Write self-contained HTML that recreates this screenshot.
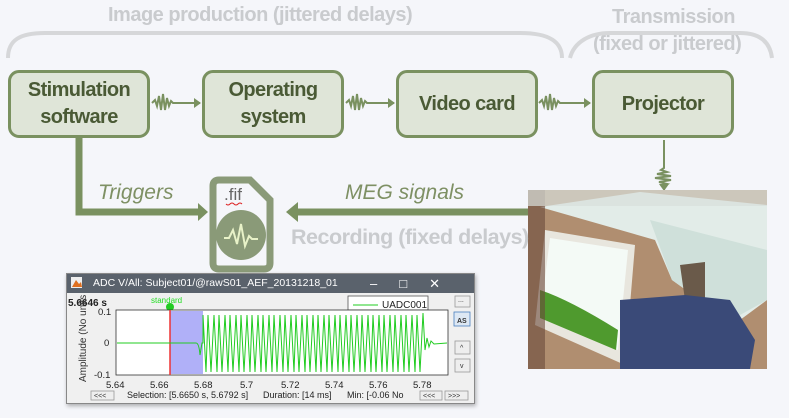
<!DOCTYPE html>
<html><head><meta charset="utf-8"><style>
html,body{margin:0;padding:0;background:#f5f6fa;}
body{width:789px;height:418px;position:relative;overflow:hidden;font-family:"Liberation Sans",sans-serif;}
.box{position:absolute;top:70px;height:62px;border:3px solid #7a9160;border-radius:11px;background:#dfe5d8;color:#4a5a35;font-weight:bold;font-size:20px;letter-spacing:-0.6px;display:flex;align-items:center;justify-content:center;text-align:center;line-height:27px;}
.t{position:absolute;color:#c9cbce;font-weight:bold;font-size:20px;letter-spacing:-0.5px;white-space:nowrap;}
.g{position:absolute;color:#7e9064;font-style:italic;font-size:21px;white-space:nowrap;}
</style></head><body>
<div class="t" style="left:108px;top:4px;">Image production (jittered delays)</div>
<div class="t" style="left:612px;top:6px;">Transmission</div>
<div class="t" style="left:593px;top:33px;">(fixed or jittered)</div>
<svg width="789" height="418" style="position:absolute;left:0;top:0">
<path d="M8,58 C8,40 20,33 45,33 L520,33 C550,33 562,42 562,58" fill="none" stroke="#d6d7d9" stroke-width="4"/>
<path d="M570,58 C574,42 590,33 610,33 L740,33 C760,33 770,42 772,58" fill="none" stroke="#d6d7d9" stroke-width="4"/>
<g fill="none" stroke="#7a9160" stroke-width="2">
<path d="M152,103 l3,-3 l2,6 l2,-10 l2,14 l2,-16 l2,16 l2,-12 l2,8 l2,-5 l2,2 L200,103"/>
<path d="M346,103 l3,-3 l2,6 l2,-10 l2,14 l2,-16 l2,16 l2,-12 l2,8 l2,-5 l2,2 L394,103"/>
<path d="M539,103 l3,-3 l2,6 l2,-10 l2,14 l2,-16 l2,16 l2,-12 l2,8 l2,-5 l2,2 L590,103"/>
<path d="M664,140 L664,168 l-3,2 l6,2 l-10,2 l14,2 l-16,2 l16,2 l-12,2 l8,2 l-5,2 l2,2 L664,186"/>
</g>
<g fill="#7a9160"><path d="M194,98 l7,5 l-7,5z"/><path d="M388,98 l7,5 l-7,5z"/><path d="M584,98 l7,5 l-7,5z"/><path d="M659,184 l5,7 l5,-7z"/></g>
<path d="M79,138 L79,212 L200,212" fill="none" stroke="#7a9160" stroke-width="7"/>
<path d="M198,203 l10,9 l-10,9z" fill="#7a9160"/>
<path d="M528,212 L296,212" fill="none" stroke="#7a9160" stroke-width="7"/>
<path d="M298,202 l-12,10 l12,10z" fill="#7a9160"/>
<path d="M219,180 L250,180 L270,200 L270,263 Q270,269 264,269 L219,269 Q213,269 213,263 L213,186 Q213,180 219,180Z" fill="#f5f6fa" stroke="#8a9a78" stroke-width="7"/>
<circle cx="241" cy="235" r="25" fill="#8a9a78"/>
<path d="M224,238 l5,0 l4,-8 l4,14 l4,-20 l4,22 l4,-10 l3,3 l6,0" fill="none" stroke="#e8f2c8" stroke-width="2"/>
<text x="224" y="200" font-family="Liberation Sans" font-size="17" fill="#666">.fif</text>
<path d="M226,204 q2,2 4,0 q2,-2 4,0 q2,2 4,0 q2,-2 4,0" fill="none" stroke="#d22" stroke-width="1"/>
<!-- photo -->
<rect x="528" y="190" width="239" height="179" fill="#b08e70"/>
<path d="M540,207 L640,192 L767,205 L767,300 L740,320 L700,300 L672,280 L655,240Z" fill="#e2ece8"/>
<path d="M650,220 L767,250 L767,300 L740,315 L700,300 L672,280Z" fill="#cfe0da"/>
<path d="M680,265 L705,262 L705,300 L685,300Z" fill="#6a5a4a"/>
<path d="M545,230 L635,245 L625,365 L535,325Z" fill="#e8e6de"/>
<path d="M550,238 L628,250 L618,350 L540,318Z" fill="#f4faf6"/>
<path d="M540,290 Q570,300 618,330 L616,350 L540,318Z" fill="#4f9a2e"/>
<path d="M620,300 L685,295 L730,300 L755,340 L750,369 L620,369Z" fill="#3a4a78"/>
<path d="M528,190 L545,190 L545,369 L528,369Z" fill="#6a4a3a" opacity=".6"/>
<rect x="528" y="190" width="239" height="16" fill="#d8e0dc" opacity=".7"/>
</svg>
<div class="box" style="left:8px;width:136px;">Stimulation<br>software</div>
<div class="box" style="left:202px;width:136px;">Operating<br>system</div>
<div class="box" style="left:396px;width:136px;">Video card</div>
<div class="box" style="left:592px;width:136px;">Projector</div>
<div class="g" style="left:98px;top:181px;">Triggers</div>
<div class="g" style="left:345px;top:181px;">MEG signals</div>
<div class="t" style="left:291px;top:225px;font-size:21.5px;">Recording (fixed delays)</div>
<!-- window -->
<div style="position:absolute;left:66px;top:273px;width:407px;height:129px;background:#f0f0f0;border:1px solid #888;box-shadow:1px 2px 4px rgba(0,0,0,.3);">
<div style="height:19px;background:#5a626c;color:#fff;font-size:10.5px;line-height:19px;padding-left:26px;position:relative;">ADC V/All: Subject01/@rawS01_AEF_20131218_01<span style="position:absolute;right:12px;top:0;font-size:13px;letter-spacing:22px;">–□✕</span></div>
</div>
<svg width="789" height="418" style="position:absolute;left:0;top:0;font-family:'Liberation Sans'">
<text x="68" y="306" font-size="10" font-weight="bold" fill="#222">5.6646 s</text>
<text x="151" y="303" font-size="8" fill="#2d2">standard</text>
<circle cx="170" cy="307" r="4" fill="#2c2"/>
<rect x="348" y="296" width="80" height="14" fill="#fff" stroke="#555" stroke-width=".8"/>
<line x1="353" y1="305" x2="378" y2="305" stroke="#2c2"/>
<text x="382" y="308" font-size="10" fill="#222">UADC001</text>
<rect x="116" y="310" width="332" height="65" fill="#fff" stroke="#333" stroke-width=".8"/>
<rect x="170" y="311" width="33" height="63" fill="#b0b0f8"/>
<line x1="170" y1="310" x2="170" y2="375" stroke="#e33" stroke-width="1.5"/>
<path d="M117,343 L196,343 Q199,343 200,355 L202,343 L203,343 L203,315 L206,372 L208,315 L211,372 L214,315 L217,372 L219,315 L222,372 L225,315 L228,372 L230,315 L233,372 L236,315 L239,372 L241,315 L244,372 L247,315 L250,372 L252,315 L255,372 L258,315 L261,372 L263,315 L266,372 L269,315 L272,372 L274,315 L277,372 L280,315 L283,372 L285,315 L288,372 L291,315 L294,372 L296,315 L299,372 L302,315 L305,372 L307,315 L310,372 L313,315 L316,372 L318,315 L321,372 L324,315 L327,372 L329,315 L332,372 L335,315 L338,372 L340,315 L343,372 L346,315 L349,372 L351,315 L354,372 L357,315 L360,372 L362,315 L365,372 L368,315 L371,372 L373,315 L376,372 L379,315 L382,372 L384,315 L387,372 L390,315 L393,372 L395,315 L398,372 L401,315 L404,372 L406,315 L409,372 L412,315 L415,372 L417,315 L420,372 L423,313 L425,350 L427,338 L429,347 L431,341 L434,344 L447,343" fill="none" stroke="#2c2" stroke-width="1"/>
<g font-size="9.5" fill="#222">
<text x="98" y="315">0.1</text><text x="104" y="346">0</text><text x="94" y="378">-0.1</text>
<text x="106" y="388">5.64</text><text x="150" y="388">5.66</text><text x="194" y="388">5.68</text><text x="240" y="388">5.7</text><text x="281" y="388">5.72</text><text x="325" y="388">5.74</text><text x="369" y="388">5.76</text><text x="413" y="388">5.78</text>
<text x="127" y="398" font-size="9">Selection: [5.6650 s, 5.6792 s]</text><text x="263" y="398" font-size="9">Duration: [14 ms]</text><text x="347" y="398" font-size="9">Min: [-0.06 No</text>
</g>
<text transform="translate(86,382) rotate(-90)" font-size="10" fill="#333">Amplitude (No units</text>
<g fill="#eee" stroke="#999" stroke-width=".8">
<rect x="91" y="391" width="23" height="9"/><rect x="420" y="391" width="22" height="9"/><rect x="445" y="391" width="23" height="9"/>
<rect x="455" y="296" width="15" height="11"/><rect x="454" y="312" width="16" height="14" fill="#dde8f4" stroke="#4a80c0"/><rect x="455" y="341" width="15" height="13"/><rect x="455" y="359" width="15" height="13"/>
</g>
<g font-size="7" fill="#333"><text x="94" y="398">&lt;&lt;&lt;</text><text x="423" y="398">&lt;&lt;&lt;</text><text x="448" y="398">&gt;&gt;&gt;</text><text x="457" y="323" font-weight="bold">AS</text><text x="460" y="350">^</text><text x="460" y="368">v</text><text x="458" y="302">...</text></g>
<rect x="71" y="277" width="11" height="11" fill="#eee"/><path d="M72,287 l4,-7 l3,4 l2,-2 l1,5z" fill="#e07020"/>
</svg>
</body></html>
